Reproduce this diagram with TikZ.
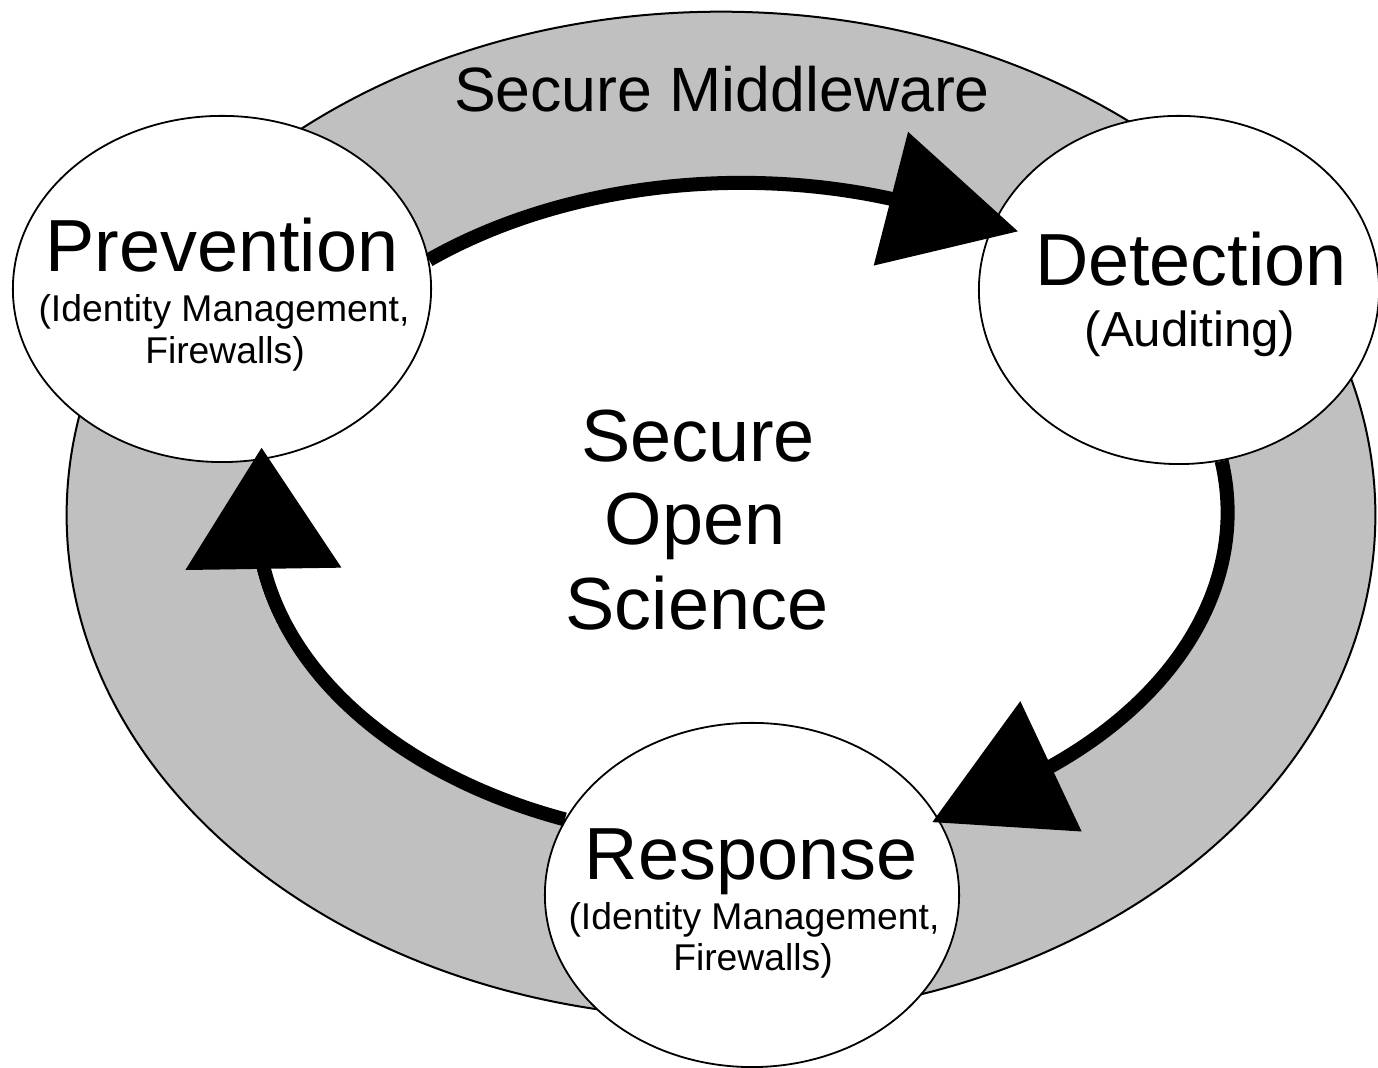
\documentclass[tikz,border=0pt]{standalone}
\usepackage{fontspec}
\setmainfont{Liberation Sans}
\usetikzlibrary{arrows.meta,calc,shapes.geometric}
\definecolor{ringgray}{RGB}{192,192,192}

\begin{document}
\begin{tikzpicture}[x=0.01cm,y=0.01cm,
  phase/.style={ellipse, draw=black, fill=white, line width=0.018cm, inner sep=0pt},
  flow/.style={line width=0.14cm, draw=black},
  big/.style={font=\fontsize{21}{25}\selectfont, inner sep=0pt},
  small/.style={font=\fontsize{10.6}{13}\selectfont, inner sep=0pt},
  mid/.style={font=\fontsize{14}{17}\selectfont, inner sep=0pt},
  band/.style={font=\fontsize{17.8}{21}\selectfont, inner sep=0pt}
]
\useasboundingbox (0,0) rectangle (1378,1068);

% grey middleware ring (inner edge tucked under the black cycle line)
\path[fill=ringgray, even odd rule]
  (721,553) ellipse[x radius=6.54cm, y radius=5.03cm]
  (741,554) ellipse[x radius=4.91cm, y radius=3.34cm];
\draw[line width=0.02cm] (721,553) ellipse[x radius=6.54cm, y radius=5.03cm];

\node[band, anchor=base] (mw) at (722,956) {Secure Middleware};

% the three phases
\node[phase, minimum width=4.18cm, minimum height=3.46cm] (prev) at (222,779) {};
\node[phase, minimum width=4.00cm, minimum height=3.48cm] (det)  at (1179,778) {};
\node[phase, minimum width=4.14cm, minimum height=3.44cm] (resp) at (752,173) {};

% cycle arrows
\draw[flow, -{Triangle[length=1.31cm, width=1.38cm, line width=0pt]}]
  (prev.8) arc[start angle=130, end angle=72, x radius=4.86cm, y radius=3.29cm]
  -- ($(det.center)!0.869!(det.160.5)$);
\draw[flow, -{Triangle[length=1.31cm, width=1.44cm, line width=0pt]}]
  (det.-76.4) arc[start angle=9, end angle=-50.5, x radius=4.86cm, y radius=3.29cm]
  -- ($(resp.center)!0.964!(resp.22.8)$);
\draw[flow, -{Triangle[length=1.21cm, width=1.56cm, line width=0pt]}]
  (resp.158.4) arc[start angle=248.5, end angle=189.4, x radius=4.86cm, y radius=3.29cm]
  -- ($(prev.center)!0.932!(prev.-76.1)$);

% labels
\node[big, anchor=base] (prevA) at (222,796) {Prevention};
\node[small, anchor=base] (prevB) at (224,746) {(Identity Management,};
\node[small, anchor=base] (prevC) at (225,704) {Firewalls)};

\node[big, anchor=base] (detA) at (1191,782) {Detection};
\node[mid, anchor=base] (detB) at (1190,721) {(Auditing)};

\node[big, anchor=base] (respA) at (751,188) {Response};
\node[small, anchor=base] (respB) at (754,138) {(Identity Management,};
\node[small, anchor=base] (respC) at (753,97) {Firewalls)};

\node[big, anchor=base] (core1) at (698,606) {Secure};
\node[big, anchor=base] (core2) at (695,523) {Open};
\node[big, anchor=base] (core3) at (697,438) {Science};
\end{tikzpicture}
\end{document}
